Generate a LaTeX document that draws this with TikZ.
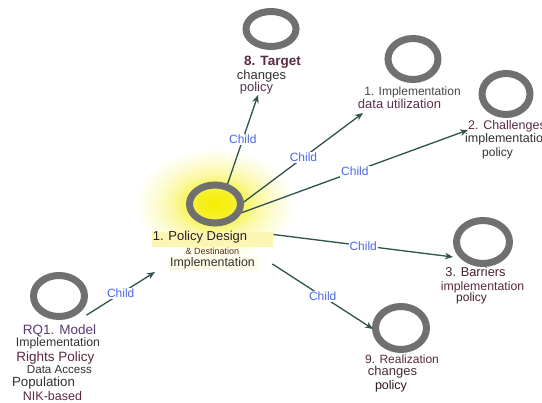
\documentclass[tikz,border=0pt]{standalone}
\usepackage{fontspec}
\setmainfont{Liberation Sans}
\usetikzlibrary{shapes.geometric,arrows.meta}

\definecolor{ringgray}{HTML}{707070}
\definecolor{linkteal}{HTML}{2E524E}
\definecolor{childblue}{HTML}{4A68E6}
\definecolor{inkdark}{HTML}{333333}
\definecolor{inkbrown}{HTML}{2A2020}
\definecolor{inkmaroon}{HTML}{5A2A42}
\definecolor{inkplum}{HTML}{5A3050}
\definecolor{inkpurple}{HTML}{5A3C70}
\definecolor{titlebg}{HTML}{FBF6B4}
\definecolor{subbg}{HTML}{FEFBE4}
\definecolor{gl0}{HTML}{F6EE00}
\definecolor{gl1}{HTML}{F6EF20}
\definecolor{gl2}{HTML}{F8F45C}
\definecolor{gl3}{HTML}{FBF8A0}
\definecolor{gl4}{HTML}{FDFCD6}

% radial glow: the shaded path's edge sits at 25bp
\pgfdeclareradialshading{pdglow}{\pgfpoint{0bp}{0bp}}{%
  color(0bp)=(gl0); color(5bp)=(gl1); color(9bp)=(gl2);
  color(13bp)=(gl3); color(19bp)=(gl4); color(25bp)=(white);
  color(50bp)=(white)}

\newcommand\setfs[1]{\fontsize{#1pt}{#1pt}\selectfont}

\tikzset{
  ring/.style={ellipse, draw=ringgray, line width=7pt, inner sep=0pt},
  txt/.style={inner sep=0pt, anchor=center},
  link/.style={draw=linkteal, line width=1.3pt,
    -{Stealth[length=8pt,width=6.5pt]}},
  child/.style={fill=white, text=childblue, font=\setfs{12},
    inner sep=1pt},
}

\begin{document}
\begin{tikzpicture}[x=1pt,y=-1pt]
\useasboundingbox (0,0) rectangle (542,403);
\fill[white] (0,0) rectangle (542,403);

% glow around the central node
\shade[shading=pdglow] (215,204) ellipse [x radius=80, y radius=56];

% highlight bars behind the central labels
\node[fill=titlebg, inner sep=0pt, minimum width=121pt, minimum height=15pt,
  anchor=west] (pdtitlebg) at (152,239.5) {};
\node[fill=subbg, inner sep=0pt, minimum width=89pt, minimum height=13pt,
  anchor=west] (pdsubbg) at (168,263.5) {};

% rings
\node[ring, minimum width=51pt, minimum height=38pt] (pd) at (215,204) {};
\node[ring, minimum width=50pt, minimum height=35pt] (t8) at (271,29) {};
\node[ring, minimum width=50pt, minimum height=41pt] (imp) at (413,59) {};
\node[ring, minimum width=48pt, minimum height=41pt] (ch) at (506,94) {};
\node[ring, minimum width=53pt, minimum height=43pt] (bar) at (483,242) {};
\node[ring, minimum width=51pt, minimum height=43pt] (real) at (401,328) {};
\node[ring, minimum width=51pt, minimum height=41pt] (rq) at (59,296) {};

% central labels
\node[txt, font=\setfs{13}, text=inkbrown] (pdt1) at (200,237) {1. Policy Design};
\node[txt, font=\setfs{9}, text=inkbrown!80!orange] (pdt2) at (212.5,251) {\& Destination};
\node[txt, font=\setfs{12.4}, text=inkdark] (pdt3) at (212.5,263) {Implementation};

% 8. Target
\node[txt, font=\bfseries\setfs{13.5}, text=inkmaroon] (t8a) at (272.5,62) {8. Target};
\node[txt, font=\setfs{13}, text=inkdark] (t8b) at (261.5,76) {changes};
\node[txt, font=\setfs{13}, text=inkplum] (t8c) at (256.5,88) {policy};

% 1. Implementation
\node[txt, font=\setfs{12}, text=inkdark!90] (impa) at (412.5,92) {1. Implementation};
\node[txt, font=\setfs{13}, text=inkplum] (impb) at (399.5,104) {data utilization};

% 2. Challenges
\node[txt, font=\setfs{12.5}, text=inkmaroon, anchor=west] (cha) at (468,126) {2. Challenges};
\node[txt, font=\setfs{12.5}, text=inkdark, anchor=west] (chb) at (465,139) {implementation};
\node[txt, font=\setfs{12}, text=inkdark] (chc) at (497.5,153) {policy};

% 3. Barriers
\node[txt, font=\setfs{12.8}, text=inkmaroon!80!black] (bara) at (475.5,272) {3. Barriers};
\node[txt, font=\setfs{12.3}, text=inkmaroon] (barb) at (482.5,287) {implementation};
\node[txt, font=\setfs{12}, text=inkmaroon!70!black] (barc) at (471.5,298) {policy};

% 9. Realization
\node[txt, font=\setfs{12}, text=inkmaroon] (reala) at (402,359) {9. Realization};
\node[txt, font=\setfs{13}, text=inkmaroon!60!inkdark] (realb) at (392.5,372) {changes};
\node[txt, font=\setfs{12.5}, text=inkmaroon!50!black] (realc) at (391,386) {policy};

% RQ1
\node[txt, font=\setfs{13.5}, text=inkpurple] (rqa) at (59.5,331) {RQ1. Model};
\node[txt, font=\setfs{12.3}, text=inkdark] (rqb) at (58,343) {Implementation};
\node[txt, font=\setfs{13.5}, text=inkmaroon] (rqc) at (55.5,358) {Rights Policy};
\node[txt, font=\setfs{11.6}, text=inkdark] (rqd) at (59.5,370) {Data Access};
\node[txt, font=\setfs{13.3}, text=inkdark] (rqe) at (43.5,383) {Population};
\node[txt, font=\setfs{12.5}, text=inkmaroon] (rqf) at (52.5,396) {NIK-based};

% arrow tips
\coordinate (t8tip) at (258,95);
\coordinate (imptip) at (363,113);
\coordinate (chtip) at (468,130);
\coordinate (bartip) at (453,257);
\coordinate (realtip) at (373,329);
\coordinate (pdtip) at (155,272);

% connectors
\draw[link] (pd.58) -- node[child] {Child} (t8tip);
\draw[link] (pd.4) -- node[child] {Child} (imptip);
\draw[link] (pd.-18) -- node[child] {Child} (chtip);
\draw[link] ([yshift=5pt]pdtitlebg.east) -- node[child] {Child} (bartip);
\draw[link] ([xshift=15pt,yshift=-0.5pt]pdsubbg.east) -- node[child] {Child} (realtip);
\draw[link] ([xshift=5pt,yshift=-4pt]rq.-34) -- node[child] {Child} (pdtip);
\end{tikzpicture}
\end{document}
